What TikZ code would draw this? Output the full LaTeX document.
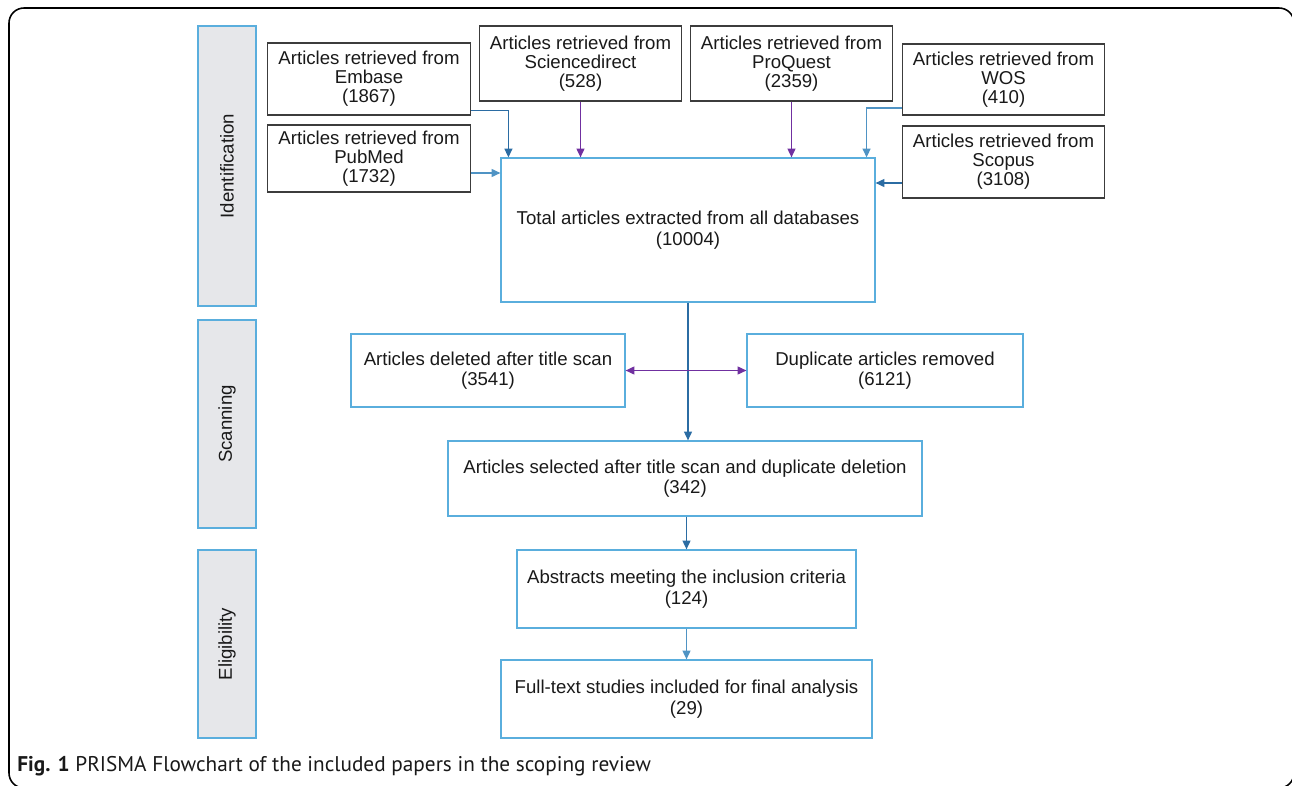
\documentclass[tikz,border=0pt]{standalone}
\usepackage{fontspec}
\setmainfont{Liberation Sans}
\newfontfamily\capfont{PT Sans}
\usetikzlibrary{arrows.meta}

\definecolor{srcgray}{HTML}{3C3C3C}
\definecolor{boxblue}{HTML}{5AAEDD}
\definecolor{bargray}{HTML}{E6E7EA}
\definecolor{arrblue}{HTML}{2B6CA3}
\definecolor{arrlight}{HTML}{4F93C4}
\definecolor{arrpurple}{HTML}{7030A0}

\begin{document}
\begin{tikzpicture}[x=0.02cm, y=-0.02cm, >={Triangle[length=5pt,width=4.5pt]},
  every node/.style={font=\fontsize{10.6}{10.8}\selectfont, text=black!90, align=center, inner sep=0pt},
  srcbox/.style={draw=srcgray, line width=0.7pt, minimum width=4.05cm},
  flowbox/.style={draw=boxblue, line width=0.7pt, font=\fontsize{10.6}{11.6}\selectfont},
  stagebar/.style={draw=boxblue, fill=bargray, line width=0.7pt, minimum height=1.16cm, rotate=90},
  link/.style={->, line width=0.8pt, arrblue},
  lightlink/.style={->, line width=0.8pt, arrlight},
  purplelink/.style={->, line width=0.8pt, arrpurple}]
  \useasboundingbox (0,0) rectangle (1292,785);
  \draw[line width=0.9pt, rounded corners=0.3cm] (9,8) rectangle (1294,788);

  % stages
  \node[stagebar, minimum width=5.6cm] (ident) at (227,166) {Identification};
  \node[stagebar, minimum width=4.16cm] (scan) at (227,424) {Scanning};
  \node[stagebar, minimum width=3.76cm] (elig) at (227,644) {Eligibility};

  % databases
  \node[srcbox, minimum height=1.44cm] (embase) at (369,79) {Articles retrieved from\\Embase\\(1867)};
  \node[srcbox, minimum height=1.34cm] (pubmed) at (369,158.5) {Articles retrieved from\\PubMed\\(1732)};
  \node[srcbox, minimum height=1.5cm] (sdirect) at (580.5,63.5) {Articles retrieved from\\Sciencedirect\\(528)};
  \node[srcbox, minimum height=1.5cm] (proquest) at (791.5,63.5) {Articles retrieved from\\ProQuest\\(2359)};
  \node[srcbox, minimum height=1.42cm] (wos) at (1003.5,79.5) {Articles retrieved from\\WOS\\(410)};
  \node[srcbox, minimum height=1.44cm] (scopus) at (1003.5,162) {Articles retrieved from\\Scopus\\(3108)};

  % flow
  \node[flowbox, minimum width=7.48cm, minimum height=2.88cm] (total) at (688,230) {Total articles extracted from all databases\\(10004)};
  \node[flowbox, minimum width=5.48cm, minimum height=1.46cm] (deleted) at (488,370.5) {Articles deleted after title scan\\(3541)};
  \node[flowbox, minimum width=5.52cm, minimum height=1.46cm] (dupl) at (885,370.5) {Duplicate articles removed\\(6121)};
  \node[flowbox, minimum width=9.48cm, minimum height=1.5cm] (selected) at (685,478.5) {Articles selected after title scan and duplicate deletion\\(342)};
  \node[flowbox, minimum width=6.78cm, minimum height=1.56cm] (abstr) at (686.5,589) {Abstracts meeting the inclusion criteria\\(124)};
  \node[flowbox, minimum width=7.42cm, minimum height=1.56cm] (fulltext) at (686.5,699) {Full-text studies included for final analysis\\(29)};

  % connectors
  \coordinate (embout) at ([yshift=0.1cm]embase.south east);
  \coordinate (embin) at ([xshift=0.16cm]total.north west);
  \coordinate (pubout) at ([yshift=-0.29cm]pubmed.east);
  \coordinate (wosout) at ([yshift=-0.57cm]wos.west);
  \coordinate (wosin) at ([xshift=-0.18cm]total.north east);
  \coordinate (scoout) at ([yshift=-0.42cm]scopus.west);
  \draw[link] (embout) -| (embin);
  \draw[lightlink] (pubout) -- (pubout -| total.west);
  \draw[purplelink] (sdirect.south) -- (sdirect.south |- total.north);
  \draw[purplelink] (proquest.south) -- (proquest.south |- total.north);
  \draw[lightlink] (wosout) -| (wosin);
  \draw[link] (scoout) -- (scoout -| total.east);
  \draw[link] (total.south) -- (total.south |- selected.north);
  \draw[purplelink, <->] (deleted.east) -- (deleted.east -| dupl.west);
  \draw[link] (abstr.north |- selected.south) -- (abstr.north);
  \draw[lightlink] (abstr.south) -- (fulltext.north);

  \node[anchor=base west, font=\capfont\fontsize{12.1}{14}\selectfont] (caption) at (17,771) {\textbf{Fig. 1} PRISMA Flowchart of the included papers in the scoping review};
\end{tikzpicture}
\end{document}
